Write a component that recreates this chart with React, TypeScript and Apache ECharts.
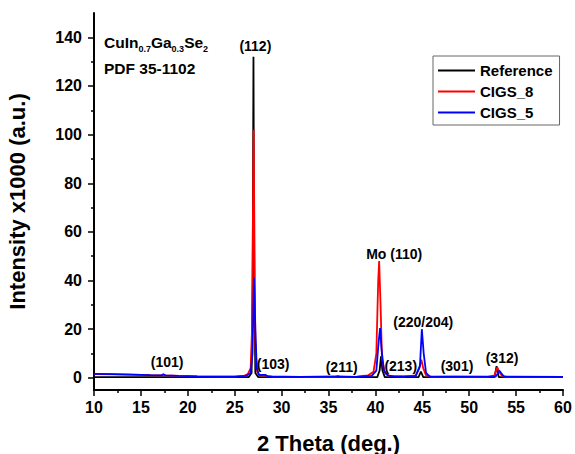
import { useEffect, useRef } from "react";
import * as echarts from "echarts";

// XRD pattern values: [2θ (deg), intensity x1000]
const referencePoints: [number, number][] = [
  [10, 0.3], [26.5, 0.3], [26.8, 2], [26.92, 40], [27.0, 132], [27.08, 40], [27.2, 2], [27.5, 0.3],
  [40.2, 0.3], [40.45, 3], [40.6, 8.8], [40.75, 3], [41.0, 0.3],
  [44.6, 0.3], [44.85, 2.6], [45.1, 0.3],
  [52.7, 0.3], [52.92, 4.8], [53.15, 0.3], [60, 0.3],
];

const cigs8Points: [number, number][] = [
  [10, 1.5], [12, 1.4], [14, 1.3], [16, 1.1], [17.2, 1.0], [17.4, 1.4], [17.6, 1.0], [19, 0.8],
  [21, 0.6], [23, 0.5], [25, 0.5], [26, 0.8], [26.4, 1.5], [26.7, 4], [26.85, 20], [26.95, 70],
  [27.02, 102], [27.1, 60], [27.2, 15], [27.35, 3], [27.6, 1], [28.3, 0.9], [29, 0.5], [32, 0.4],
  [35.8, 0.4], [36, 0.7], [36.2, 0.4], [38, 0.5], [39.2, 1], [39.8, 2.5], [40.1, 10], [40.3, 40],
  [40.4, 48], [40.55, 30], [40.7, 8], [41, 2], [41.5, 0.8], [43, 0.5], [44.3, 1], [44.7, 4],
  [44.9, 7.5], [45.1, 4], [45.4, 1], [46, 0.4], [48.3, 0.5], [52, 0.4], [52.7, 1], [52.9, 3.5],
  [53.0, 4.3], [53.2, 2.5], [53.5, 0.8], [54, 0.4], [60, 0.4],
];

const cigs5Points: [number, number][] = [
  [10, 1.6], [12, 1.5], [14, 1.3], [16, 1.1], [17.2, 1.0], [17.4, 1.5], [17.6, 1.0], [19, 0.8],
  [21, 0.6], [23, 0.5], [25, 0.5], [26.2, 0.8], [26.7, 2], [26.9, 10], [27.05, 41], [27.2, 20],
  [27.35, 4], [27.6, 1.2], [28.3, 1.2], [28.5, 0.6], [32, 0.4], [35.9, 0.6], [38, 0.4], [39.6, 0.8],
  [40.1, 3], [40.35, 15], [40.5, 20.5], [40.65, 12], [40.9, 3], [41.3, 1], [42, 0.5], [42.7, 0.6],
  [44.3, 0.7], [44.75, 5], [44.95, 20], [45.15, 10], [45.4, 2], [45.8, 0.5], [48.3, 0.5],
  [52.8, 0.5], [53.0, 1.5], [53.2, 3], [53.4, 2], [53.7, 0.5], [60, 0.4],
];

const seriesNames = ["Reference", "CIGS_8", "CIGS_5"];
const seriesColors = ["#000000", "#ff0000", "#0000ff"];

// peak labels and where they sit (data coords)
const peakLabels = ["(112)", "(101)", "(103)", "(211)", "Mo (110)", "(213)", "(220/204)", "(301)", "(312)"];
const peakLabelX = [27.2, 17.8, 29.1, 36.4, 42.0, 42.7, 45.1, 48.7, 53.5];
const peakLabelY = [136.5, 6.4, 5.7, 4.5, 51, 4.9, 22.8, 4.9, 8.2];

const yMajorTicks = [0, 20, 40, 60, 80, 100, 120, 140];
const yMinorTicks = [10, 30, 50, 70, 90, 110, 130];

const FONT = "'Liberation Sans', Arial, sans-serif";

export default function App() {
  const ref = useRef<HTMLDivElement | null>(null);

  useEffect(() => {
    if (!ref.current) return;
    const chart = echarts.init(ref.current, null, { renderer: "svg" });

    const lineSeries = [referencePoints, cigs8Points, cigs5Points].map((pts, i) => ({
      name: seriesNames[i],
      type: "line" as const,
      data: pts,
      symbol: "none",
      lineStyle: { color: seriesColors[i], width: 1.8 },
      itemStyle: { color: seriesColors[i] },
      z: 2 + i,
    }));

    chart.setOption({
      animation: false,
      textStyle: { fontFamily: FONT },
      grid: { left: 94, right: 12, top: 13, bottom: 64, containLabel: false, outerBoundsMode: "none" },
      legend: {
        data: seriesNames,
        orient: "vertical",
        left: 433,
        top: 56,
        icon: "rect",
        itemWidth: 37,
        itemHeight: 1.8,
        itemGap: 4,
        padding: [6, 7, 4, 5],
        borderColor: "#666",
        borderWidth: 1,
        textStyle: { fontFamily: FONT, fontWeight: "bold", fontSize: 15, color: "#000", lineHeight: 17 },
      },
      xAxis: {
        type: "value",
        min: 10,
        max: 60,
        interval: 5,
        name: "2 Theta (deg.)",
        nameLocation: "middle",
        nameGap: 42,
        nameTextStyle: { fontFamily: FONT, fontWeight: "bold", fontSize: 22, color: "#000" },
        axisLine: { onZero: false, lineStyle: { color: "#000", width: 2 } },
        axisTick: { length: 6, lineStyle: { color: "#000", width: 1.5 } },
        minorTick: { show: true, splitNumber: 2, length: 3, lineStyle: { color: "#000", width: 1.5 } },
        axisLabel: { fontFamily: FONT, fontWeight: "bold", fontSize: 16, color: "#000", margin: 9 },
        splitLine: { show: false },
      },
      yAxis: [
        {
          type: "value",
          min: -5,
          max: 150,
          name: "Intensity x1000 (a.u.)",
          nameLocation: "middle",
          nameGap: 66,
          nameTextStyle: { fontFamily: FONT, fontWeight: "bold", fontSize: 22, color: "#000" },
          axisLine: { show: true, lineStyle: { color: "#000", width: 2 } },
          axisTick: { show: true, length: 6, customValues: yMajorTicks, lineStyle: { color: "#000", width: 1.5 } },
          axisLabel: {
            customValues: yMajorTicks,
            fontFamily: FONT,
            fontWeight: "bold",
            fontSize: 16,
            color: "#000",
            margin: 12,
          },
          splitLine: { show: false },
        },
        {
          type: "value",
          min: -5,
          max: 150,
          position: "left",
          axisLine: { show: false },
          axisTick: { show: true, length: 3, customValues: yMinorTicks, lineStyle: { color: "#000", width: 1.5 } },
          axisLabel: { show: false },
          splitLine: { show: false },
        },
      ],
      series: [
        ...lineSeries,
        {
          name: "labels",
          type: "scatter",
          symbolSize: 1,
          silent: true,
          itemStyle: { color: "rgba(0,0,0,0)" },
          z: 10,
          data: peakLabels.map((t, i) => ({
            value: [peakLabelX[i], peakLabelY[i]],
            label: { formatter: t },
          })),
          label: {
            show: true,
            position: "inside",
            fontFamily: FONT,
            fontWeight: "bold",
            fontSize: 14,
            color: "#000",
            opacity: 1,
            textBorderWidth: 0,
          },
        },
      ],
      graphic: [
        {
          type: "text",
          left: 104,
          top: 34,
          style: {
            text: "{m|CuIn}{s|0.7}{m|Ga}{s|0.3}{m|Se}{s|2}\n{m|PDF 35-1102}",
            fill: "#000",
            rich: {
              m: { fontFamily: FONT, fontWeight: "bold", fontSize: 15.5, lineHeight: 26, verticalAlign: "top" },
              s: { fontFamily: FONT, fontWeight: "bold", fontSize: 9, padding: [10, 0, 0, 0], verticalAlign: "top" },
            },
          },
        },
      ],
    });

    return () => chart.dispose();
  }, []);

  return (
    <div style={{ position: "fixed", left: 0, top: 0, width: 575, height: 454, background: "#fff" }}>
      <div ref={ref} style={{ width: 575, height: 454 }} />
    </div>
  );
}
